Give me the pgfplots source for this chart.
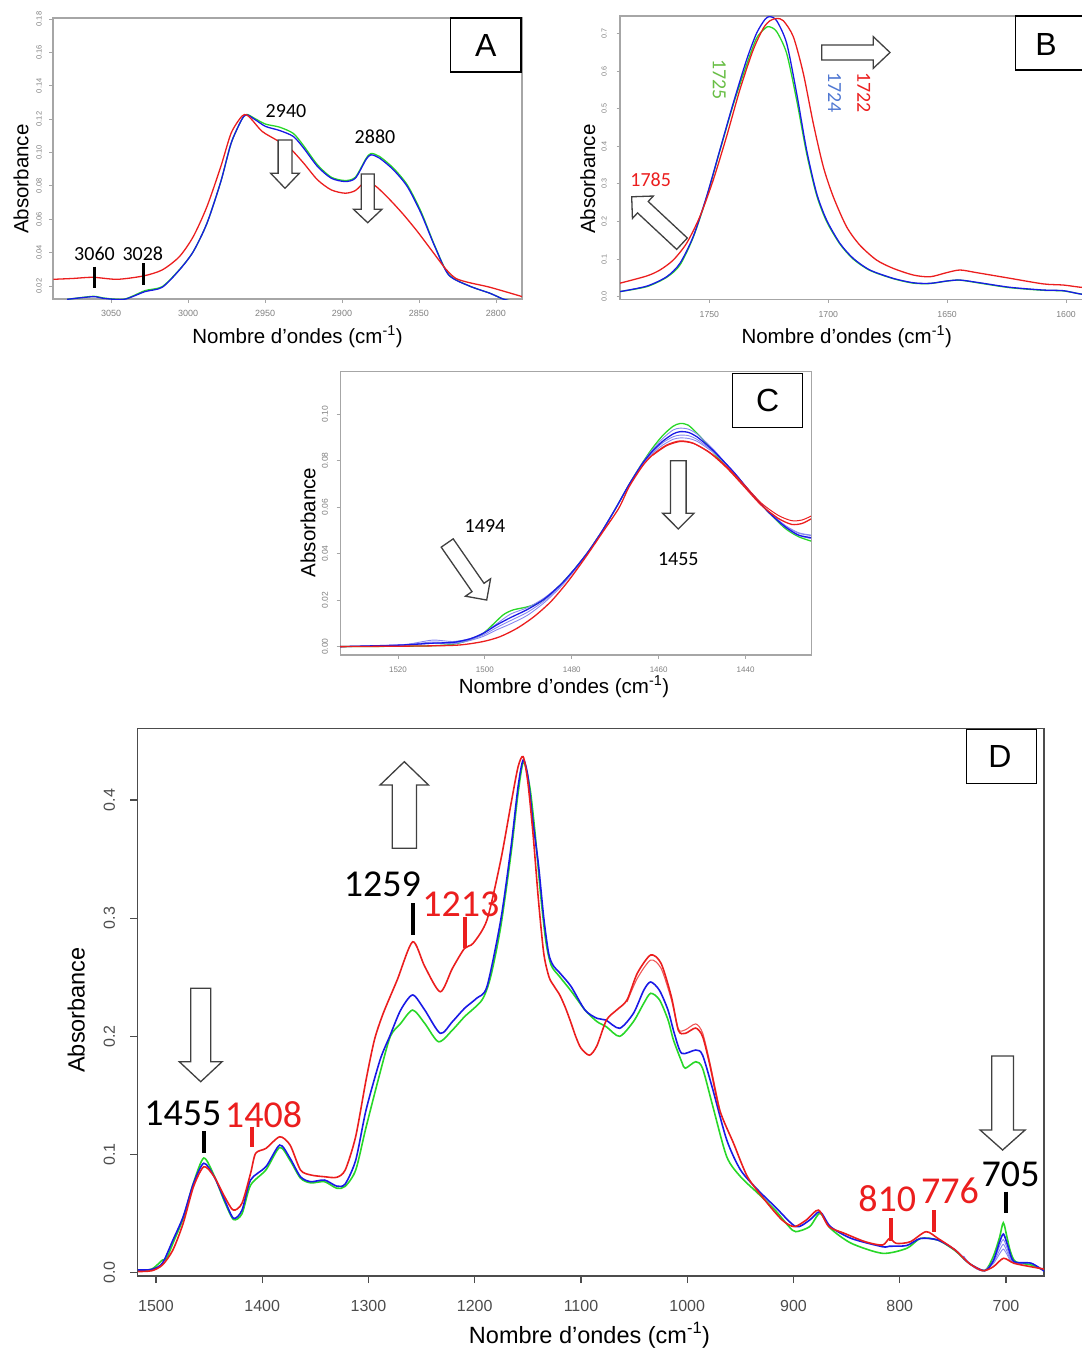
\documentclass[border=0pt]{standalone}
\usepackage{pgfplots}
\pgfplotsset{compat=1.18}
\usepackage{fontspec}
\setmainfont{Liberation Sans}
\newfontfamily\calfont{Carlito}

\definecolor{cred}{RGB}{235,30,30}
\definecolor{cgreen}{RGB}{40,215,40}
\definecolor{cblue}{RGB}{25,25,230}
\definecolor{clight}{RGB}{135,135,240}
\definecolor{lgreen}{RGB}{105,190,70}
\definecolor{lblue}{RGB}{80,120,210}

\pgfplotsset{
  spectrum/.style={scale only axis, anchor=south west, x dir=reverse,
    tick align=outside, tick pos=left, clip=true, no markers},
  lightframe/.style={axis line style={draw=black!35, line width=1.1pt},
    tick style={draw=black!35, line width=0.8pt}, major tick length=3.5pt,
    tick label style={text=black!50}},
  darkframe/.style={axis line style={draw=black!70, line width=1.4pt},
    tick style={draw=black!70, line width=1.2pt}, major tick length=7pt,
    tick label style={text=black!70}},
  rd/.style={draw=cred, line width=1.3pt, smooth, tension=0.45},
  gr/.style={draw=cgreen, line width=1.3pt, smooth, tension=0.45},
  bl/.style={draw=cblue, line width=1.3pt, smooth, tension=0.45},
  lb/.style={draw=clight, line width=0.9pt, smooth, tension=0.45},
}

% hollow block arrow: tail x, tail y (y downwards), angle, length,
% shaft half width, head half width, head length
\newcommand{\hollowarrow}[7]{%
  \begin{scope}[shift={(#1pt,-#2pt)}, rotate=#3]
    \pgfmathsetmacro\hb{#4-#7}
    \draw[black!75, line width=1.3pt, fill=white, line join=miter]
      (0pt,-#5pt) -- (\hb pt,-#5pt) -- (\hb pt,-#6pt) -- (#4pt,0pt)
      -- (\hb pt,#6pt) -- (\hb pt,#5pt) -- (0pt,#5pt) -- cycle;
  \end{scope}}

\begin{document}
\begin{tikzpicture}

% ---------------- A : C-H stretching region ----------------
\begin{axis}[spectrum, lightframe,
  at={(53pt,-299pt)}, width=469pt, height=281pt,
  xmin=2783.1, xmax=3087.7, ymin=0.0122, ymax=0.1806,
  xtick={3050,3000,2950,2900,2850,2800},
  xticklabels={3050,3000,2950,2900,2850,2800},
  ytick={0.02,0.04,0.06,0.08,0.10,0.12,0.14,0.16,0.18},
  yticklabels={0.02,0.04,0.06,0.08,0.10,0.12,0.14,0.16,0.18},
  xticklabel style={font=\fontsize{9}{9}\selectfont, anchor=base, yshift=-14.2pt},
  yticklabel style={font=\fontsize{7.5}{7.5}\selectfont, rotate=90, anchor=base, yshift=7.8pt},
]
\addplot[gr] coordinates {
(3078.5,0.012) (3061.7,0.0138) (3055,0.0128) (3041.5,0.0121) (3028,0.0172)
(3016.8,0.0196) (3005.6,0.0298) (2996.6,0.0406) (2987.7,0.0576) (2978.7,0.0826)
(2972,0.1056) (2965.2,0.1196) (2961.9,0.1228) (2956.3,0.1202) (2949.6,0.1170)
(2940.6,0.1152) (2931.6,0.1114) (2924.9,0.1040) (2915.9,0.0926) (2907,0.0852)
(2898,0.0832) (2891.3,0.0852) (2884.5,0.0962) (2881.2,0.0994) (2875.6,0.0976)
(2866.6,0.0906) (2857.6,0.0806) (2848.7,0.0646) (2839.7,0.0440) (2830.7,0.0268)
(2817.3,0.0200) (2803.8,0.0156) (2794.8,0.0120) (2785,0.0100)};
\addplot[bl] coordinates {
(3078.5,0.012) (3061.7,0.0136) (3055,0.0126) (3041.5,0.012) (3028,0.0166)
(3016.8,0.0192) (3005.6,0.0296) (2996.6,0.0406) (2987.7,0.0576) (2978.7,0.0826)
(2972,0.1056) (2965.2,0.1196) (2961.9,0.1226) (2956.3,0.1196) (2949.6,0.1156)
(2940.6,0.1132) (2931.6,0.1096) (2924.9,0.1026) (2915.9,0.0916) (2907,0.0846)
(2898,0.0826) (2891.3,0.0846) (2884.5,0.0956) (2881.2,0.0986) (2875.6,0.0966)
(2866.6,0.0896) (2857.6,0.0796) (2848.7,0.0636) (2839.7,0.0436) (2830.7,0.0266)
(2817.3,0.0200) (2803.8,0.0156) (2794.8,0.0120) (2785,0.0100)};
\addplot[rd] coordinates {
(3087.4,0.024) (3075,0.0245) (3061.7,0.0252) (3046,0.024) (3029.1,0.026)
(3016.8,0.0296) (3005.6,0.0376) (2996.6,0.0496) (2987.7,0.0676) (2978.7,0.0916)
(2972,0.1116) (2965.2,0.1216) (2962,0.1226) (2958.5,0.1196) (2951.8,0.1126)
(2942.8,0.1076) (2933.9,0.1026) (2924.9,0.0936) (2915.9,0.0836) (2907,0.0776)
(2898,0.0756) (2891.3,0.0772) (2884.5,0.0826) (2877.8,0.0796) (2868.8,0.0716)
(2859.9,0.0626) (2851,0.0526) (2842,0.0416) (2833,0.0306) (2826.2,0.0246)
(2817.3,0.0220) (2803.8,0.0192) (2781.4,0.0132)};
\end{axis}

% ---------------- B : carbonyl region ----------------
\begin{axis}[spectrum, lightframe,
  at={(620pt,-299.3pt)}, width=480pt, height=283.3pt,
  xmin=1585.7, xmax=1787.6, ymin=-0.0069, ymax=0.7465,
  xtick={1750,1700,1650,1600}, xticklabels={1750,1700,1650,1600},
  ytick={0,0.1,0.2,0.3,0.4,0.5,0.6,0.7},
  yticklabels={0.0,0.1,0.2,0.3,0.4,0.5,0.6,0.7},
  xticklabel style={font=\fontsize{8.7}{8.7}\selectfont, anchor=base, yshift=-14.5pt},
  yticklabel style={font=\fontsize{7.2}{7.2}\selectfont, rotate=90, anchor=base, yshift=9.8pt},
]
\addplot[gr] coordinates {
(1787.9,0.0133) (1776.4,0.0266) (1768,0.0514) (1762.4,0.084) (1756.8,0.158)
(1751.2,0.264) (1745.6,0.388) (1740,0.51) (1734.4,0.616) (1730.2,0.687)
(1726.6,0.7136) (1724.8,0.718) (1721.7,0.705) (1717.5,0.647) (1713.3,0.523)
(1709.1,0.381) (1704.9,0.27) (1700.7,0.2) (1695.1,0.14) (1689.5,0.1)
(1682.5,0.07) (1672.7,0.048) (1664.2,0.036) (1657.2,0.035) (1650.2,0.0415)
(1644.6,0.044) (1636.2,0.036) (1623.6,0.024) (1609.5,0.017) (1601.1,0.0155)
(1593.7,0.007) (1586,0.003)};
\addplot[bl] coordinates {
(1787.9,0.0133) (1776.4,0.028) (1768,0.053) (1762.4,0.0887) (1756.8,0.16)
(1751.2,0.266) (1745.6,0.39) (1740,0.514) (1734.4,0.629) (1730.2,0.70)
(1726.6,0.7376) (1724.5,0.745) (1721.7,0.734) (1717.5,0.674) (1713.3,0.541)
(1709.1,0.39) (1704.9,0.275) (1700.7,0.204) (1695.1,0.142) (1689.5,0.102)
(1682.5,0.071) (1672.7,0.0488) (1664.2,0.037) (1657.2,0.0355) (1650.2,0.0417)
(1644.6,0.0443) (1636.2,0.037) (1623.6,0.025) (1609.5,0.0177) (1601.1,0.016)
(1593.7,0.007) (1586,0.003)};
\addplot[rd] coordinates {
(1787.9,0.0355) (1776.4,0.055) (1770.8,0.071) (1765.2,0.0975) (1759.6,0.142)
(1754,0.213) (1748.4,0.31) (1742.8,0.4255) (1737.2,0.55) (1731.6,0.656)
(1727.3,0.714) (1724.5,0.734) (1721.7,0.74) (1718.9,0.734) (1714.7,0.6915)
(1710.5,0.594) (1706.3,0.461) (1702.1,0.346) (1697.9,0.266) (1692.3,0.186)
(1686.7,0.137) (1679.7,0.0975) (1672.7,0.0754) (1664.2,0.0576) (1657.2,0.053)
(1650.2,0.064) (1644.6,0.071) (1637.6,0.064) (1623.6,0.049) (1609.5,0.034)
(1601.1,0.031) (1593.7,0.025) (1586,0.022)};
\end{axis}

% ---------------- C : CH2 bending region ----------------
\begin{axis}[spectrum, lightframe,
  at={(340.2pt,-655pt)}, width=471pt, height=283.3pt,
  xmin=1424.9, xmax=1533.3, ymin=-0.0036, ymax=0.1183,
  xtick={1520,1500,1480,1460,1440}, xticklabels={1520,1500,1480,1460,1440},
  ytick={0,0.02,0.04,0.06,0.08,0.10},
  yticklabels={0.00,0.02,0.04,0.06,0.08,0.10},
  xticklabel style={font=\fontsize{8}{8}\selectfont, anchor=base, yshift=-13.8pt},
  yticklabel style={font=\fontsize{8.5}{8.5}\selectfont, rotate=90, anchor=base, yshift=8.7pt},
]
\addplot[gr] coordinates {
(1533.3,0) (1513.7,0.0003) (1507.4,0.001) (1503.5,0.0029) (1500.4,0.0057)
(1498,0.0098) (1495.7,0.0138) (1493.5,0.0158) (1490.5,0.017) (1488,0.0185)
(1485.6,0.0215) (1482.4,0.027) (1479.3,0.0335) (1476.2,0.0409) (1473.1,0.0495)
(1469.9,0.0595) (1466.8,0.0698) (1463.7,0.0792) (1461.4,0.0855) (1459,0.091)
(1456.7,0.0948) (1455.1,0.096) (1453.2,0.0953) (1450.4,0.0903) (1446.5,0.0817)
(1442.6,0.0738) (1438.7,0.066) (1434.8,0.058) (1430.9,0.0509) (1427.8,0.0473)
(1424.9,0.0454)};
\addplot[lb] coordinates {
(1533.3,0) (1519.1,0.0008) (1512.1,0.0028) (1507.4,0.0022) (1503.5,0.0034)
(1500.4,0.0058) (1497.3,0.0098) (1494.1,0.014) (1490.2,0.0168) (1486.3,0.021)
(1482.4,0.027) (1479.3,0.0335) (1476.2,0.0409) (1473.1,0.0495) (1469.9,0.0595)
(1466.8,0.0698) (1463.7,0.0791) (1461.4,0.0848) (1459,0.0897) (1456.7,0.0932)
(1455.1,0.094) (1453.2,0.0936) (1451.2,0.0915) (1448.1,0.0862) (1446.5,0.083)
(1442.6,0.0746) (1438.7,0.066) (1434.8,0.058) (1430.9,0.0514) (1427.8,0.0478)
(1424.9,0.0465)};
\addplot[lb] coordinates {
(1533.3,0) (1519.1,0.0007) (1512.1,0.002) (1507.4,0.0016) (1503.5,0.003)
(1500.4,0.005) (1497.3,0.0082) (1494.1,0.0112) (1490.2,0.0148) (1486.3,0.0198)
(1482.4,0.0265) (1479.3,0.0333) (1476.2,0.0409) (1473.1,0.0495) (1469.9,0.0595)
(1466.8,0.0697) (1463.7,0.0788) (1461.4,0.0838) (1459,0.0878) (1456.7,0.0903)
(1455.1,0.091) (1453.2,0.0908) (1451.2,0.0892) (1448.1,0.085) (1446.5,0.0824)
(1442.6,0.0749) (1438.7,0.0662) (1434.8,0.0582) (1430.9,0.052) (1427.8,0.0488)
(1424.9,0.0478)};
\addplot[lb] coordinates {
(1533.3,0) (1519.1,0.0006) (1512.1,0.0014) (1507.4,0.0012) (1503.5,0.0026)
(1500.4,0.0044) (1497.3,0.0072) (1494.1,0.0098) (1490.2,0.0135) (1486.3,0.019)
(1482.4,0.026) (1479.3,0.033) (1476.2,0.0407) (1473.1,0.0494) (1469.9,0.0594)
(1466.8,0.0695) (1463.7,0.0785) (1461.4,0.0832) (1459,0.0868) (1456.7,0.0892)
(1455.1,0.0898) (1453.2,0.0896) (1451.2,0.0884) (1448.1,0.0845) (1446.5,0.0821)
(1442.6,0.0748) (1438.7,0.0662) (1434.8,0.0583) (1430.9,0.0522) (1427.8,0.049)
(1424.9,0.048)};
\addplot[bl] coordinates {
(1533.3,0) (1519.1,0.0007) (1512.1,0.0015) (1507.4,0.0018) (1503.5,0.0033)
(1500.4,0.0057) (1497.3,0.0093) (1494.1,0.0125) (1490.2,0.016) (1486.3,0.0205)
(1482.4,0.027) (1479.3,0.0335) (1476.2,0.0409) (1473.1,0.0495) (1469.9,0.0595)
(1466.8,0.0698) (1463.7,0.0789) (1461.4,0.0842) (1459,0.0885) (1456.7,0.0915)
(1455.1,0.0925) (1453.2,0.0922) (1451.2,0.0903) (1448.1,0.0855) (1446.5,0.0826)
(1442.6,0.0748) (1438.7,0.066) (1434.8,0.058) (1430.9,0.0516) (1427.8,0.048)
(1424.9,0.0469)};
\addplot[rd, line width=1pt] coordinates {
(1461.4,0.0823) (1458.2,0.0864) (1455.1,0.0882) (1452,0.0874) (1448.1,0.0834)
(1444.2,0.0772) (1440.3,0.0696) (1436.4,0.0618) (1432.5,0.0565) (1429.4,0.0542)
(1427,0.0545) (1424.9,0.0562)};
\addplot[rd] coordinates {
(1533.3,0) (1513.7,0.0003) (1505.9,0.0007) (1500.4,0.0022) (1496.5,0.0043)
(1492.6,0.0079) (1488.7,0.0129) (1484.8,0.0194) (1480.9,0.028) (1477,0.038)
(1473.1,0.0487) (1469.2,0.0595) (1466.8,0.0688) (1463.7,0.0778) (1461.4,0.0825)
(1458.2,0.0867) (1455.1,0.0885) (1452,0.0875) (1448.1,0.0832) (1444.2,0.0767)
(1440.3,0.0688) (1436.4,0.0609) (1432.5,0.0552) (1429.4,0.0526) (1427,0.053)
(1424.9,0.055)};
\end{axis}

% ---------------- D : fingerprint region ----------------
\begin{axis}[spectrum, darkframe,
  at={(137.3pt,-1276pt)}, width=906.7pt, height=547.7pt,
  xmin=664.2, xmax=1517.6, ymin=-0.0028, ymax=0.4606,
  xtick={1500,1400,1300,1200,1100,1000,900,800,700},
  xticklabels={1500,1400,1300,1200,1100,1000,900,800,700},
  ytick={0,0.1,0.2,0.3,0.4}, yticklabels={0.0,0.1,0.2,0.3,0.4},
  xticklabel style={font=\fontsize{16}{16}\selectfont, anchor=base, yshift=-28pt},
  yticklabel style={font=\fontsize{16}{16}\selectfont, rotate=90, anchor=base, yshift=15.3pt},
  rd/.append style={line width=1.6pt}, gr/.append style={line width=1.6pt},
  bl/.append style={line width=1.6pt},
]
\addplot[gr] coordinates {
(1517,0.002) (1504,0.003) (1494,0.0107) (1490,0.012) (1484,0.025) (1474.4,0.046)
(1464.7,0.076) (1455,0.097) (1445.2,0.082) (1435.4,0.06) (1427,0.045) (1419,0.05)
(1411,0.074) (1396.5,0.087) (1383.5,0.106) (1373.8,0.095) (1364,0.08)
(1354.4,0.076) (1341.4,0.077) (1330,0.0715) (1322,0.073) (1312,0.0869)
(1302.3,0.123) (1289.1,0.1692) (1279.4,0.2) (1269.7,0.2109) (1258.4,0.2222)
(1247,0.2109) (1234,0.1954) (1221,0.2053) (1209.6,0.2166) (1193.2,0.2307)
(1185,0.2504) (1175.5,0.2928) (1165.8,0.3548) (1159.2,0.4056) (1154,0.4324)
(1148,0.41) (1143,0.37) (1138,0.32) (1133,0.28) (1128,0.26) (1120,0.2504)
(1109,0.238) (1096,0.222) (1085,0.2125) (1076,0.208) (1063.6,0.2)
(1050.6,0.2125) (1040.9,0.2279) (1034.4,0.2364) (1026.2,0.231) (1018.1,0.214)
(1013,0.197) (1005,0.178) (1001.8,0.173) (992,0.1785) (985.6,0.173)
(975.8,0.1404) (962.8,0.0981) (949.8,0.0812) (933.5,0.0672) (917.3,0.053)
(904.2,0.039) (897.8,0.0347) (884.7,0.039) (875,0.0502) (865.2,0.0375)
(845.6,0.0249) (816.2,0.0164) (793.4,0.0206) (780.4,0.029) (764,0.0276)
(747.8,0.0186) (734.8,0.008) (720.1,0.0017) (712,0.0136) (706,0.03)
(702.5,0.0423) (699,0.03) (695.8,0.018) (690.9,0.0093) (676.2,0.0065)
(663.2,0.0017)};
\addplot[lb] coordinates {
(740,0.014) (734.8,0.008) (727,0.003) (720.1,0.0017) (712,0.0095) (706,0.0225)
(702.5,0.028) (699,0.021) (695.8,0.0125) (690.9,0.0085) (684,0.0078)};
\addplot[lb] coordinates {
(740,0.014) (734.8,0.008) (727,0.003) (720.1,0.0017) (712,0.0085) (706,0.019)
(702.5,0.024) (699,0.018) (695.8,0.011) (690.9,0.0082) (684,0.0078)};
\addplot[lb] coordinates {
(740,0.014) (734.8,0.008) (727,0.003) (720.1,0.0017) (712,0.0075) (706,0.016)
(702.5,0.020) (699,0.0155) (695.8,0.0102) (690.9,0.008) (684,0.0078)};
\addplot[bl] coordinates {
(1517,0.0023) (1504,0.0028) (1494,0.008) (1484,0.0277) (1474.4,0.0474)
(1464.7,0.0756) (1455,0.0926) (1445.2,0.0812) (1435.4,0.0615) (1427,0.046)
(1419,0.053) (1411,0.0784) (1396.5,0.0897) (1383.5,0.108) (1373.8,0.0968)
(1364,0.0812) (1354.4,0.077) (1341.4,0.0784) (1330,0.0733) (1322,0.075)
(1312,0.0953) (1302.3,0.1376) (1289.1,0.18) (1280,0.2) (1269.7,0.2222)
(1258.4,0.235) (1247,0.2222) (1232.4,0.2025) (1221,0.2124) (1209.6,0.2237)
(1198.2,0.2322) (1188.5,0.242) (1175.5,0.2984) (1165.8,0.3604) (1159.2,0.4112)
(1154.4,0.4338) (1150,0.42) (1145,0.38) (1140,0.345) (1135,0.30) (1130.4,0.27)
(1126.2,0.26) (1119.6,0.2533) (1109.2,0.242) (1096.2,0.2222) (1084.9,0.2152)
(1076.7,0.2138) (1063.6,0.2068) (1050.6,0.2195) (1040.9,0.239) (1034.4,0.246)
(1026.2,0.239) (1018.1,0.2222) (1012,0.202) (1005.2,0.1856) (992,0.1884)
(985.6,0.1842) (975.8,0.1546) (962.8,0.1123) (949.8,0.0869) (933.5,0.07)
(917.3,0.0558) (897.8,0.039) (884.7,0.0446) (875,0.0516) (865.2,0.039)
(845.6,0.029) (816.2,0.022) (809.6,0.0224) (793.4,0.023) (780.4,0.029)
(764,0.0276) (747.8,0.0192) (734.8,0.008) (720.1,0.0017) (712,0.01)
(706,0.026) (702.3,0.0327) (698,0.022) (692.5,0.0093) (676.2,0.008)
(663.2,0.0008)};
\addplot[rd, draw=cred!75, line width=1.1pt] coordinates {
(1056.7,0.229) (1047,0.249) (1034.4,0.2645) (1024.6,0.2575) (1014.9,0.231)
(1008.3,0.206) (1001.8,0.2055) (992,0.2105) (985.6,0.203) (979,0.179)
(969.4,0.1376)};
\addplot[rd] coordinates {
(1516.7,0.001) (1503.8,0.0017) (1494,0.0065) (1484.2,0.019) (1474.4,0.0418)
(1464.7,0.0728) (1454.9,0.0897) (1445.2,0.0812) (1435.4,0.0643) (1427.3,0.053)
(1419.1,0.0587) (1411,0.084) (1406.2,0.101) (1396.5,0.1052) (1383.5,0.115)
(1373.8,0.108) (1364,0.0869) (1354.4,0.0827) (1341.4,0.0812) (1330,0.0807)
(1321.9,0.0869) (1312.1,0.115) (1302.3,0.163) (1294.4,0.197) (1286.1,0.2195)
(1273,0.2476) (1258.4,0.28) (1247,0.259) (1232.4,0.2377) (1221,0.2575)
(1209.6,0.2744) (1201.5,0.2787) (1188.5,0.2984) (1175.5,0.349) (1165.8,0.397)
(1159.2,0.428) (1154.4,0.4366) (1150,0.415) (1145,0.37) (1140,0.315)
(1135,0.27) (1130,0.25) (1125,0.242) (1120,0.235) (1115,0.225) (1110,0.213)
(1105,0.2) (1100,0.19) (1092,0.184) (1085,0.192) (1076,0.2138) (1066.5,0.2222)
(1056.7,0.2307) (1047,0.2533) (1034.4,0.2688) (1024.6,0.2617) (1014.9,0.2335)
(1008.3,0.205) (1001.8,0.2025) (992,0.207) (985.6,0.2) (979,0.177)
(969.4,0.1376) (956.4,0.1095) (943.3,0.0812) (927,0.0615) (910.7,0.0446)
(899.3,0.039) (887.9,0.0446) (876.5,0.053) (866.7,0.039) (852,0.0333)
(832.5,0.0262) (816.2,0.0234) (809.6,0.029) (803.1,0.0248) (790,0.0262)
(775.3,0.0347) (764,0.029) (747.8,0.0192) (734.8,0.008) (721.8,0.0017)
(712,0.005) (702.3,0.0122) (692.5,0.008) (676.2,0.005) (663.2,0.003)};
\end{axis}

% ---------------- annotations ----------------
\hollowarrow{285}{140}{-90}{48.3}{6.9}{14.3}{15}
\hollowarrow{367.7}{174}{-90}{48.7}{6.5}{14.2}{13.4}
\hollowarrow{821.7}{52.5}{0}{68.3}{7.5}{15.8}{16.7}
\hollowarrow{682}{243.7}{137}{68.8}{7.8}{15.3}{15.3}
\hollowarrow{447.2}{543}{-55.3}{69.4}{7.3}{15.3}{15.3}
\hollowarrow{678.3}{460.7}{-90}{68.3}{7.8}{15.6}{15.7}
\hollowarrow{404.3}{848.3}{90}{86.6}{12.1}{24.2}{23.3}
\hollowarrow{200.7}{988.3}{-90}{93.4}{10}{21.4}{20}
\hollowarrow{1002.6}{1056}{-90}{94}{10.9}{22.5}{20}

\begin{scope}[x=1pt, y=-1pt]
  % panel letters
  \draw[line width=1.3pt, fill=white] (450.7,18) rectangle (521,72);
  \node[font=\fontsize{32}{32}\selectfont] at (485.8,45) {A};
  \draw[line width=1.3pt, fill=white] (1015.7,16) rectangle (1095,70);
  \node[font=\fontsize{32}{32}\selectfont] at (1046,44) {B};
  \draw[line width=1.3pt, fill=white] (732.5,373.5) rectangle (802.7,427.5);
  \node[font=\fontsize{32}{32}\selectfont] at (767.6,400.5) {C};
  \draw[line width=1.3pt, fill=white] (966.4,729.3) rectangle (1036.7,783.3);
  \node[font=\fontsize{32}{32}\selectfont] at (1000,756.3) {D};

  % axis titles
  \node[font=\fontsize{20.5}{24}\selectfont, anchor=base] at (297.5,343) {Nombre d’ondes (cm\textsuperscript{-1})};
  \node[font=\fontsize{20.5}{24}\selectfont, anchor=base, rotate=90] at (28.3,179.2) {Absorbance};
  \node[font=\fontsize{20.5}{24}\selectfont, anchor=base] at (846.7,343) {Nombre d’ondes (cm\textsuperscript{-1})};
  \node[font=\fontsize{20.5}{24}\selectfont, anchor=base, rotate=90] at (595,179.2) {Absorbance};
  \node[font=\fontsize{20.5}{24}\selectfont, anchor=base] at (564,693.3) {Nombre d’ondes (cm\textsuperscript{-1})};
  \node[font=\fontsize{20.5}{24}\selectfont, anchor=base, rotate=90] at (315.4,522.5) {Absorbance};
  \node[font=\fontsize{23.5}{28}\selectfont, anchor=base] at (589.5,1343) {Nombre d’ondes (cm\textsuperscript{-1})};
  \node[font=\fontsize{23.5}{28}\selectfont, anchor=base, rotate=90] at (84.7,1010) {Absorbance};

  % band positions, panel A
  \node[font=\calfont\fontsize{20}{24}\selectfont, anchor=base] at (94.5,261) {3060};
  \node[font=\calfont\fontsize{20}{24}\selectfont, anchor=base] at (142.8,261) {3028};
  \node[font=\calfont\fontsize{20}{24}\selectfont, anchor=base] at (286,118) {2940};
  \node[font=\calfont\fontsize{20}{24}\selectfont, anchor=base] at (375,143.3) {2880};
  \draw[line width=2.8pt] (94.3,266.7) -- (94.3,288.3);
  \draw[line width=2.8pt] (143.3,263.3) -- (143.3,285);

  % band positions, panel B
  \node[font=\calfont\fontsize{20}{24}\selectfont, anchor=base, text=cred] at (650.7,186.7) {1785};
  \node[font=\calfont\fontsize{20}{24}\selectfont, rotate=-90, inner sep=0pt, text=lgreen] at (719.2,79.7) {1725};
  \node[font=\calfont\fontsize{20}{24}\selectfont, rotate=-90, inner sep=0pt, text=lblue] at (834.7,92.7) {1724};
  \node[font=\calfont\fontsize{20}{24}\selectfont, rotate=-90, inner sep=0pt, text=cred] at (863.8,92.7) {1722};

  % band positions, panel C
  \node[font=\calfont\fontsize{20}{24}\selectfont, anchor=base] at (485,532) {1494};
  \node[font=\calfont\fontsize{20}{24}\selectfont, anchor=base] at (678.3,565) {1455};

  % band positions, panel D
  \node[font=\calfont\fontsize{38}{44}\selectfont, anchor=base] at (182.8,1125) {1455};
  \node[font=\calfont\fontsize{38}{44}\selectfont, anchor=base, text=cred] at (263.5,1127.3) {1408};
  \node[font=\calfont\fontsize{38}{44}\selectfont, anchor=base] at (382.3,896.7) {1259};
  \node[font=\calfont\fontsize{38}{44}\selectfont, anchor=base, text=cred] at (460.8,916.7) {1213};
  \node[font=\calfont\fontsize{38}{44}\selectfont, anchor=base, text=cred] at (887.2,1211.7) {810};
  \node[font=\calfont\fontsize{38}{44}\selectfont, anchor=base, text=cred] at (949.9,1203.3) {776};
  \node[font=\calfont\fontsize{38}{44}\selectfont, anchor=base] at (1010.6,1186) {705};
  \draw[line width=3.8pt] (203.9,1131) -- (203.9,1152.7);
  \draw[line width=3.8pt, cred] (252.2,1126.7) -- (252.2,1147.3);
  \draw[line width=3.8pt] (412.9,903.3) -- (412.9,935);
  \draw[line width=3.8pt, cred] (464.8,916.7) -- (464.8,948.3);
  \draw[line width=3.8pt, cred] (891.3,1218.3) -- (891.3,1240.7);
  \draw[line width=3.8pt, cred] (933.9,1210) -- (933.9,1231.7);
  \draw[line width=3.8pt] (1005.6,1191.7) -- (1005.6,1212.7);
\end{scope}

\pgfresetboundingbox
\path[use as bounding box] (0pt,0pt) rectangle (1081pt,-1348pt);
\end{tikzpicture}
\end{document}
